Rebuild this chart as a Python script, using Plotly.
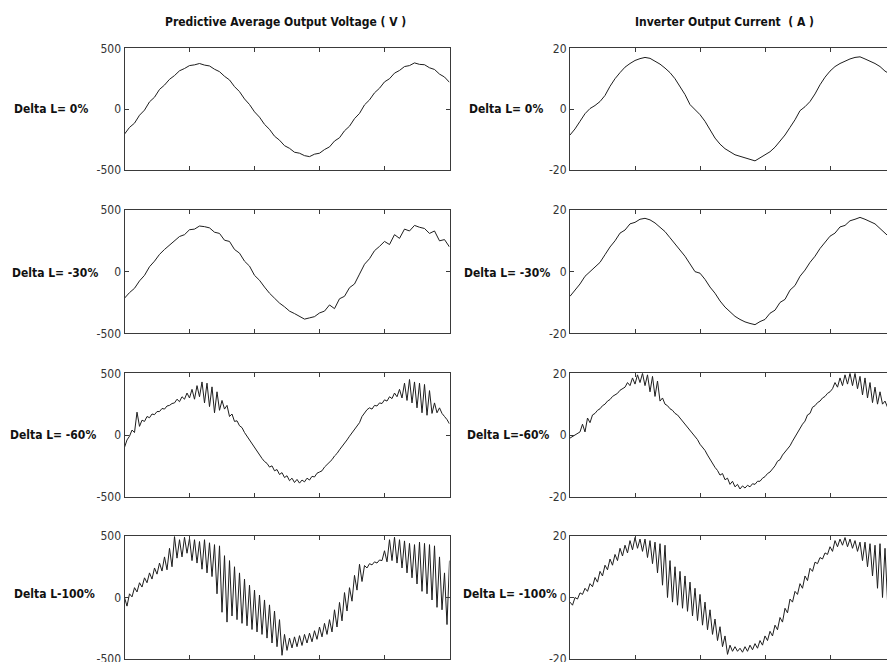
import numpy as np
import plotly.graph_objects as go

# ---------------- data ----------------
v_0 = [-205, -150, -115, -50, -8, 60, 98, 162, 198, 245, 276, 315, 334, 358, 364, 375, 362, 355, 328, 308,
       270, 240, 185, 144, 84, 38, -22, -66, -125, -166, -222, -255, -300, -322, -354, -362, -382, -390, -370, -362,
       -332, -310, -262, -235, -178, -140, -78, -35, 35, 76, 134, 172, 224, 250, 296, 318, 350, 358, 380, 368,
       365, 340, 326, 288, 264, 220]
i_0 = [-8.5, -6.5, -4, -1.5, 0.2, 1.2, 2.5, 4.5, 7.5, 10, 12, 13.8, 15, 16, 16.6, 17, 16.7, 15.8, 14.8, 13.5,
       12, 10, 7.5, 4.8, 1.5, -0.2, -1.8, -4, -7, -9.5, -11.5, -13, -14, -15, -15.5, -16, -16.5, -17, -16, -15,
       -14, -12.5, -10.5, -8.5, -6, -3.5, -0.5, 0.8, 2.5, 5, 8, 10.5, 12.5, 14, 15, 15.8, 16.5, 17, 17.2, 16.5,
       15.8, 15, 14, 12.5, 11.5, 10]
v_30 = [-215, -170, -135, -75, -30, 40, 85, 140, 180, 215, 250, 285, 300, 340, 345, 370, 365, 355, 320, 310,
        255, 245, 180, 150, 85, 45, -30, -70, -125, -175, -215, -255, -285, -320, -340, -360, -385, -375, -365, -335,
        -320, -270, -300, -220, -200, -130, -100, -20, 60, 105, 170, 205, 245, 220, 300, 270, 345, 330, 375, 360,
        350, 310, 330, 250, 260, 200]
i_30 = [-8, -6, -4, -1.5, 0, 1.5, 3, 5.5, 8, 10, 12.5, 13.5, 15.5, 16, 17, 17.3, 16.8, 15.8, 14.5, 13,
        11, 9, 7, 5, 2.5, 0, -0.5, -2.5, -5, -7, -9.5, -11.5, -13, -14.5, -15.5, -16.3, -16.8, -17.2, -16.2, -15.5,
        -13.5, -12.5, -10, -9, -6, -4.5, -1.5, 0.5, 3, 5, 7.5, 9.5, 11.5, 12.5, 14.5, 15, 16.5, 17, 17.6, 17,
        16.2, 15.5, 14, 12.5, 11, 9.5]
v_60 = [-100, -40, -10, 40, 20, 185, 70, 120, 110, 150, 140, 170, 165, 190, 190, 215, 210, 235, 240, 255,
        260, 290, 270, 310, 290, 340, 300, 370, 290, 400, 310, 430, 260, 420, 230, 390, 180, 350, 200, 280,
        210, 240, 150, 170, 110, 115, 75, 60, 20, -10, -50, -80, -110, -140, -170, -190, -215, -230, -260, -250,
        -290, -280, -320, -305, -345, -330, -370, -350, -385, -360, -390, -365, -380, -350, -365, -335, -340, -310, -300, -290,
        -260, -240, -215, -200, -170, -150, -120, -95, -70, -40, -10, 20, 50, 75, 100, 150, 175, 205, 220, 210,
        240, 235, 260, 255, 285, 275, 310, 295, 340, 310, 370, 300, 420, 280, 450, 260, 430, 220, 420, 180,
        410, 160, 360, 175, 260, 180, 220, 175, 150, 125, 90]
i_60 = [-1, -0.5, 0, 0.5, 1, 3.5, 1, 5.5, 4, 6.5, 7, 8, 8.5, 9.5, 10, 11, 11.5, 12.5, 13, 13.5,
        14.5, 15, 15.5, 17, 16, 18.5, 16.5, 19.5, 17, 20, 16, 19.5, 14, 19, 12.5, 17.5, 11, 12, 10, 9.5,
        8.5, 8, 7, 6.5, 5.5, 4.5, 3.5, 2.5, 1.5, 0.5, -0.5, -1.5, -3, -4, -5, -6.5, -8, -9, -10.5, -11.5,
        -13, -12.5, -14.5, -14, -16, -15, -16.8, -16, -17.5, -16.5, -17.2, -16.3, -16.8, -15.8, -16, -15, -15, -14, -13.5, -12.5,
        -12, -11, -10, -8.5, -8, -6.5, -5.5, -4.5, -3.5, -2, -0.5, 1, 2, 3.5, 4.5, 6.5, 7, 9, 9.5, 10.5,
        11, 12, 12.5, 13.5, 14, 15, 17, 15.5, 18.5, 16, 19.5, 16.5, 20, 16, 20, 15, 19, 13, 18.5, 12,
        17, 10.5, 15.5, 10, 14, 10, 11, 9, 8, 7, 6]
v_100 = [0, -70, 30, 5, 80, 45, 120, 85, 160, 120, 200, 150, 240, 190, 280, 215, 330, 225, 400, 250,
         495, 320, 470, 330, 490, 360, 480, 300, 470, 280, 455, 230, 470, 200, 445, 170, 430, 30, 420, -120,
         340, -200, 300, -150, 250, -180, 200, -210, 150, -230, 100, -260, 60, -280, 20, -300, -20, -330, -60, -370,
         -110, -400, -180, -470, -300, -430, -330, -410, -320, -400, -310, -390, -300, -370, -290, -360, -270, -340, -240, -320,
         -210, -300, -180, -280, -100, -240, -40, -190, 40, -110, 80, -30, 180, 60, 270, 130, 260, 240, 275, 265,
         290, 280, 305, 300, 380, 290, 470, 300, 490, 280, 470, 240, 460, 200, 440, 160, 430, 110, 450, 50,
         440, 30, 430, -20, 420, -80, 330, -100, 200, -220, 300]
i_100 = [-1.5, -2.5, 0, -0.5, 1.5, 1, 3, 2, 4.5, 3.5, 6.5, 5, 8.5, 7, 10.5, 9, 12.5, 10.5, 14, 12,
         16, 13.5, 17, 14.5, 18.5, 15.5, 19.5, 16, 19, 15, 19, 13, 18.5, 11, 18, 8, 17.5, 4, 17, 0,
         12, -1.5, 10, -2.5, 8.5, -3.5, 7, -4.5, 5, -6, 3, -7.5, 1, -9, -1.5, -10.5, -4, -12, -7, -14,
         -9.5, -16, -12.5, -18.5, -15.5, -17.5, -16, -17.5, -16.5, -17.8, -16, -17.5, -15.5, -17, -15, -16.5, -14, -15.5, -12.5, -14,
         -11, -12.5, -9, -10.5, -6.5, -8, -3.5, -5, -0.5, -1.5, 2, 1, 4.5, 3, 7, 5.5, 9.5, 8.5, 11.5, 11,
         13, 12.5, 14.5, 14, 16.5, 15, 18.5, 16.5, 19, 17, 19.5, 16.5, 19, 16, 18.5, 15, 18, 12, 18, 10,
         17.5, 7, 17, 3, 17.5, 0, 16, -1, 14, -2, 12]

col_titles = ["Predictive Average Output Voltage ( V )", "Inverter Output Current  ( A )"]
left_labels = ["Delta L= 0%", "Delta L= -30%", "Delta L= -60%", "Delta L-100%"]
right_labels = ["Delta L= 0%", "Delta L= -30%", "Delta L=-60%", "Delta L= -100%"]
v_ticks = [-500, 0, 500]
i_ticks = [-20, 0, 20]
t_span = 325.0
t_ticks = [65, 130, 195, 260]

voltage = [v_0, v_30, v_60, v_100]
current = [i_0, i_30, i_60, i_100]

# ---------------- layout geometry ----------------
W, H = 887, 662
row_px = [(48.3, 170.0), (210.0, 333.3), (373.3, 496.7), (536.0, 659.0)]
col_px = [(124.5, 449.5), (570.0, 887.0)]
col_range = [[0, t_span], [0, 317.0]]

FONT = "Liberation Sans Narrow, Arial Narrow, DejaVu Sans Condensed, sans-serif"
AX = "#3a3a3a"

fig = go.Figure()
layout = dict(width=W, height=H, margin=dict(l=0, r=0, t=0, b=0, pad=0, autoexpand=False),
              paper_bgcolor="white", plot_bgcolor="white", showlegend=False,
              font=dict(family=FONT, size=12, color="#333"))

k = 0
for r in range(4):
    for c in range(2):
        k += 1
        xa = "xaxis" if k == 1 else f"xaxis{k}"
        ya = "yaxis" if k == 1 else f"yaxis{k}"
        xr = "x" if k == 1 else f"x{k}"
        yr = "y" if k == 1 else f"y{k}"
        vals = voltage[r] if c == 0 else current[r]
        t = np.linspace(0, t_span, len(vals))
        fig.add_trace(go.Scatter(x=t, y=vals, mode="lines", xaxis=xr, yaxis=yr,
                                 line=dict(color="#1e1e1e", width=1), hoverinfo="skip"))
        y0, y1 = row_px[r]
        x0, x1 = col_px[c]
        layout[xa] = dict(domain=[x0 / W, x1 / W], range=col_range[c], anchor=yr, automargin=False,
                          showgrid=False, zeroline=False, showline=True, linecolor=AX, linewidth=1,
                          mirror="ticks", ticks="inside", ticklen=4, tickcolor=AX,
                          tickvals=t_ticks, showticklabels=False)
        lim = 500 if c == 0 else 20
        layout[ya] = dict(domain=[1 - y1 / H, 1 - y0 / H], range=[-lim, lim], anchor=xr, automargin=False,
                          showgrid=False, zeroline=False, showline=True, linecolor=AX, linewidth=1,
                          mirror="ticks" if c == 0 else False, ticks="inside", ticklen=4, tickcolor=AX,
                          tickvals=v_ticks if c == 0 else i_ticks,
                          ticktext=[str(v) for v in (v_ticks if c == 0 else i_ticks)],
                          ticklabeloverflow="allow",
                          tickfont=dict(family=FONT, size=12, color="#333"))

annotations = []
title_x = [285.5, 724.0]
for c in range(2):
    annotations.append(dict(text="<b>" + col_titles[c] + "</b>", x=title_x[c] / W, y=1 - 22 / H,
                            xref="paper", yref="paper", showarrow=False, xanchor="center", yanchor="middle",
                            font=dict(family=FONT, size=12, color="#111")))
left_x = [12, 10, 8, 12]
right_x = [467, 462, 465, 461]
row_mid = [109, 273, 435, 594]
for r in range(4):
    annotations.append(dict(text="<b>" + left_labels[r] + "</b>", x=left_x[r] / W, y=1 - row_mid[r] / H,
                            xref="paper", yref="paper", showarrow=False, xanchor="left", yanchor="middle",
                            font=dict(family=FONT, size=12, color="#111")))
    annotations.append(dict(text="<b>" + right_labels[r] + "</b>", x=right_x[r] / W, y=1 - row_mid[r] / H,
                            xref="paper", yref="paper", showarrow=False, xanchor="left", yanchor="middle",
                            font=dict(family=FONT, size=12, color="#111")))
layout["annotations"] = annotations

fig.update_layout(**layout)
fig.write_html("out.html", config={"displayModeBar": False})

# remove the default page margin so the figure sits at the window's top-left corner
with open("out.html", "r", encoding="utf-8") as fh:
    html = fh.read()
html = html.replace("<head>", "<head><style>html,body{margin:0;padding:0;overflow:hidden;}</style>", 1)
with open("out.html", "w", encoding="utf-8") as fh:
    fh.write(html)
